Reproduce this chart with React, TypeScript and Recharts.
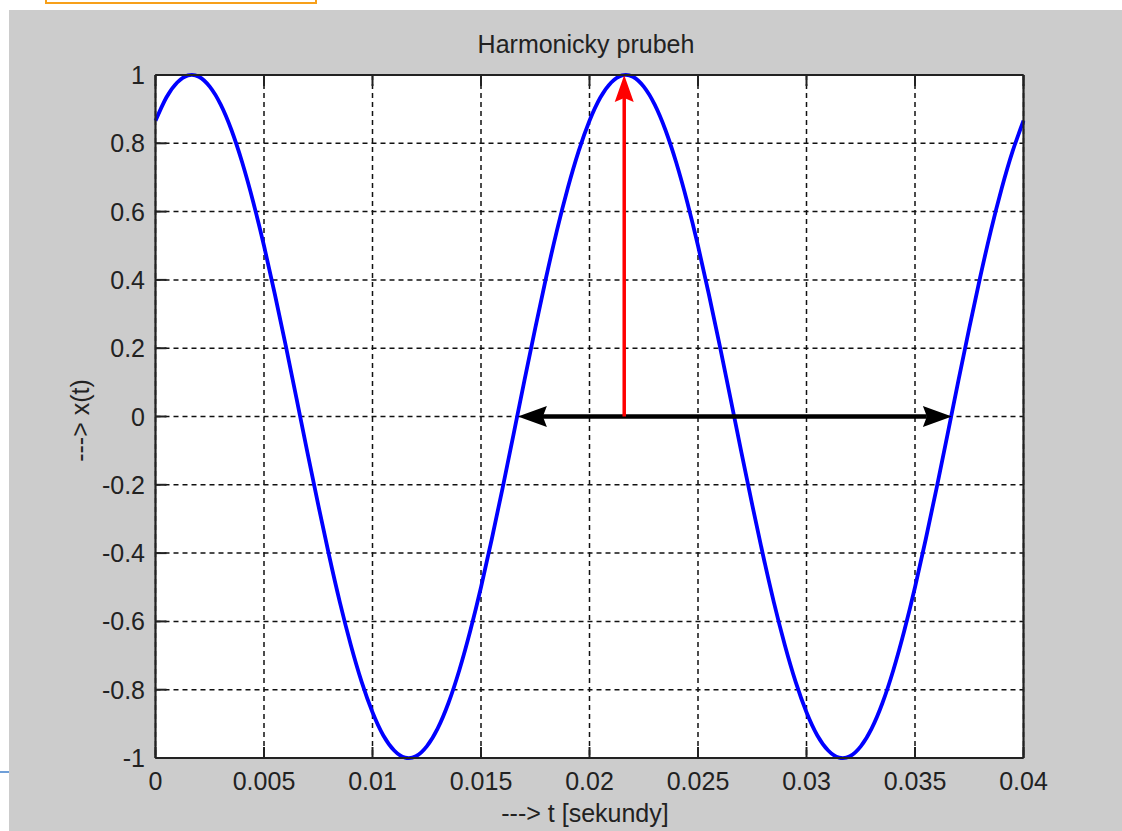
import { LineChart, Line, XAxis, YAxis, CartesianGrid, ReferenceLine } from "recharts";

// sampled signal x(t), 0.5 ms step
const time = [
  0, 0.0005, 0.001, 0.0015, 0.002, 0.0025, 0.003, 0.0035, 0.004, 0.0045,
  0.005, 0.0055, 0.006, 0.0065, 0.007, 0.0075, 0.008, 0.0085, 0.009, 0.0095,
  0.01, 0.0105, 0.011, 0.0115, 0.012, 0.0125, 0.013, 0.0135, 0.014, 0.0145,
  0.015, 0.0155, 0.016, 0.0165, 0.017, 0.0175, 0.018, 0.0185, 0.019, 0.0195,
  0.02, 0.0205, 0.021, 0.0215, 0.022, 0.0225, 0.023, 0.0235, 0.024, 0.0245,
  0.025, 0.0255, 0.026, 0.0265, 0.027, 0.0275, 0.028, 0.0285, 0.029, 0.0295,
  0.03, 0.0305, 0.031, 0.0315, 0.032, 0.0325, 0.033, 0.0335, 0.034, 0.0345,
  0.035, 0.0355, 0.036, 0.0365, 0.037, 0.0375, 0.038, 0.0385, 0.039, 0.0395,
  0.04,
];
const amplitude = [
  0.866, 0.934, 0.978, 0.999, 0.995, 0.966, 0.914, 0.839, 0.743, 0.629,
  0.5, 0.358, 0.208, 0.052, -0.105, -0.259, -0.407, -0.545, -0.669, -0.777,
  -0.866, -0.934, -0.978, -0.999, -0.995, -0.966, -0.914, -0.839, -0.743, -0.629,
  -0.5, -0.358, -0.208, -0.052, 0.105, 0.259, 0.407, 0.545, 0.669, 0.777,
  0.866, 0.934, 0.978, 0.999, 0.995, 0.966, 0.914, 0.839, 0.743, 0.629,
  0.5, 0.358, 0.208, 0.052, -0.105, -0.259, -0.407, -0.545, -0.669, -0.777,
  -0.866, -0.934, -0.978, -0.999, -0.995, -0.966, -0.914, -0.839, -0.743, -0.629,
  -0.5, -0.358, -0.208, -0.052, 0.105, 0.259, 0.407, 0.545, 0.669, 0.777,
  0.866,
];

const xTicks = [0, 0.005, 0.01, 0.015, 0.02, 0.025, 0.03, 0.035, 0.04];
const yTicks = [-1, -0.8, -0.6, -0.4, -0.2, 0, 0.2, 0.4, 0.6, 0.8, 1];

// amplitude marker and one-period marker
const peakTime = 0.0216;
const peakValue = 1;
const periodStart = 0.0167;
const periodEnd = 0.0367;

const title = "Harmonicky prubeh";
const xLabel = "---> t [sekundy]";
const yLabel = "---> x(t)";

const data = time.map((t, i) => ({ t, x: amplitude[i] }));

const FONT = '"Liberation Sans", Arial, sans-serif';
const INK = "#222";
const TICK_LEN = 11;
const axisLine = { stroke: INK, strokeWidth: 2.2 };

function BottomTick(props: any) {
  const { x, y, payload } = props;
  return (
    <g>
      <line x1={x} x2={x} y1={y} y2={y - TICK_LEN} stroke={INK} strokeWidth={2} />
      <text x={x} y={y + 32} textAnchor="middle" fontFamily={FONT} fontSize={25} fill={INK}>
        {String(payload.value)}
      </text>
    </g>
  );
}

function TopTick(props: any) {
  const { x, y } = props;
  return <line x1={x} x2={x} y1={y} y2={y + TICK_LEN} stroke={INK} strokeWidth={2} />;
}

function LeftTick(props: any) {
  const { x, y, payload } = props;
  return (
    <g>
      <line x1={x} x2={x + TICK_LEN} y1={y} y2={y} stroke={INK} strokeWidth={2} />
      <text x={x - 10.5} y={y + 9} textAnchor="end" fontFamily={FONT} fontSize={25} fill={INK}>
        {String(payload.value)}
      </text>
    </g>
  );
}

function RightTick(props: any) {
  const { x, y } = props;
  return <line x1={x} x2={x - TICK_LEN} y1={y} y2={y} stroke={INK} strokeWidth={2} />;
}

// line with a notched arrow head at the end (and optionally at the start)
function arrow(color: string, width: number, headLen: number, headHalf: number, twoHeads: boolean) {
  return (props: any) => {
    const { x1, y1, x2, y2 } = props;
    const len = Math.hypot(x2 - x1, y2 - y1) || 1;
    const ux = (x2 - x1) / len;
    const uy = (y2 - y1) / len;
    const nx = -uy;
    const ny = ux;
    const notch = 4;
    const head = (px: number, py: number, dir: number) => {
      const bx = px - dir * ux * headLen;
      const by = py - dir * uy * headLen;
      const mx = px - dir * ux * (headLen - notch);
      const my = py - dir * uy * (headLen - notch);
      return `${px},${py} ${bx + nx * headHalf},${by + ny * headHalf} ${mx},${my} ${bx - nx * headHalf},${by - ny * headHalf}`;
    };
    const back = headLen - notch;
    const sx = twoHeads ? x1 + ux * back : x1;
    const sy = twoHeads ? y1 + uy * back : y1;
    return (
      <g>
        <line x1={sx} y1={sy} x2={x2 - ux * back} y2={y2 - uy * back} stroke={color} strokeWidth={width} />
        <polygon points={head(x2, y2, 1)} fill={color} />
        {twoHeads && <polygon points={head(x1, y1, -1)} fill={color} />}
      </g>
    );
  };
}

const textStyle = {
  position: "absolute" as const,
  fontFamily: FONT,
  fontSize: 25,
  lineHeight: "25px",
  color: INK,
  whiteSpace: "nowrap" as const,
  textAlign: "center" as const,
  width: 400,
};

export default function App() {
  return (
    <div style={{ position: "absolute", left: 0, top: 0, width: 1122, height: 831, background: "#fff", overflow: "hidden" }}>
      <div style={{ position: "absolute", left: 45, top: -30, width: 272, height: 33.5, boxSizing: "border-box", border: "2px solid #f7a01a" }} />
      <div style={{ position: "absolute", left: 0, top: 771, width: 9, height: 1.5, background: "#6f9fd8" }} />
      <div style={{ position: "absolute", left: 9, top: 10, right: 0, bottom: 0, background: "#cccccc" }} />

      <div style={{ position: "absolute", left: 0, top: 0 }}>
        <LineChart width={1122} height={831} data={data} margin={{ top: 65, right: 88.5, bottom: 33, left: 95.5 }}>
          <CartesianGrid stroke="#111" strokeDasharray="5 4" strokeWidth={1.5} fill="#fff" />
          <XAxis
            dataKey="t"
            type="number"
            domain={[0, 0.04]}
            ticks={xTicks}
            interval={0}
            height={40}
            tickSize={0}
            tickMargin={0}
            tickLine={false}
            axisLine={axisLine}
            tick={(p: any) => <BottomTick {...p} />}
          />
          <XAxis
            xAxisId="top"
            orientation="top"
            dataKey="t"
            type="number"
            domain={[0, 0.04]}
            ticks={xTicks}
            interval={0}
            height={10}
            tickSize={0}
            tickMargin={0}
            tickLine={false}
            axisLine={axisLine}
            tick={(p: any) => <TopTick {...p} />}
          />
          <YAxis
            type="number"
            domain={[-1, 1]}
            ticks={yTicks}
            interval={0}
            width={60}
            tickSize={0}
            tickMargin={0}
            tickLine={false}
            axisLine={axisLine}
            tick={(p: any) => <LeftTick {...p} />}
          />
          <YAxis
            yAxisId="right"
            orientation="right"
            type="number"
            domain={[-1, 1]}
            ticks={yTicks}
            interval={0}
            width={10}
            tickSize={0}
            tickMargin={0}
            tickLine={false}
            axisLine={axisLine}
            tick={(p: any) => <RightTick {...p} />}
          />
          <Line
            type="natural"
            dataKey="x"
            stroke="#0000ff"
            strokeWidth={3.8}
            dot={false}
            activeDot={false}
            isAnimationActive={false}
          />
          <ReferenceLine
            segment={[{ x: periodStart, y: 0 }, { x: periodEnd, y: 0 }]}
            shape={arrow("#000", 4.5, 29, 10.5, true)}
          />
          <ReferenceLine
            segment={[{ x: peakTime, y: 0 }, { x: peakTime, y: peakValue }]}
            shape={arrow("#ff0000", 3.5, 27, 9.5, false)}
          />
        </LineChart>
      </div>

      <div style={{ ...textStyle, left: 586 - 200, top: 32 }}>{title}</div>
      <div style={{ ...textStyle, left: 585 - 200, top: 801 }}>{xLabel}</div>
      <div style={{ ...textStyle, left: 80 - 200, top: 420 - 12.5, transform: "rotate(-90deg)" }}>{yLabel}</div>
    </div>
  );
}
